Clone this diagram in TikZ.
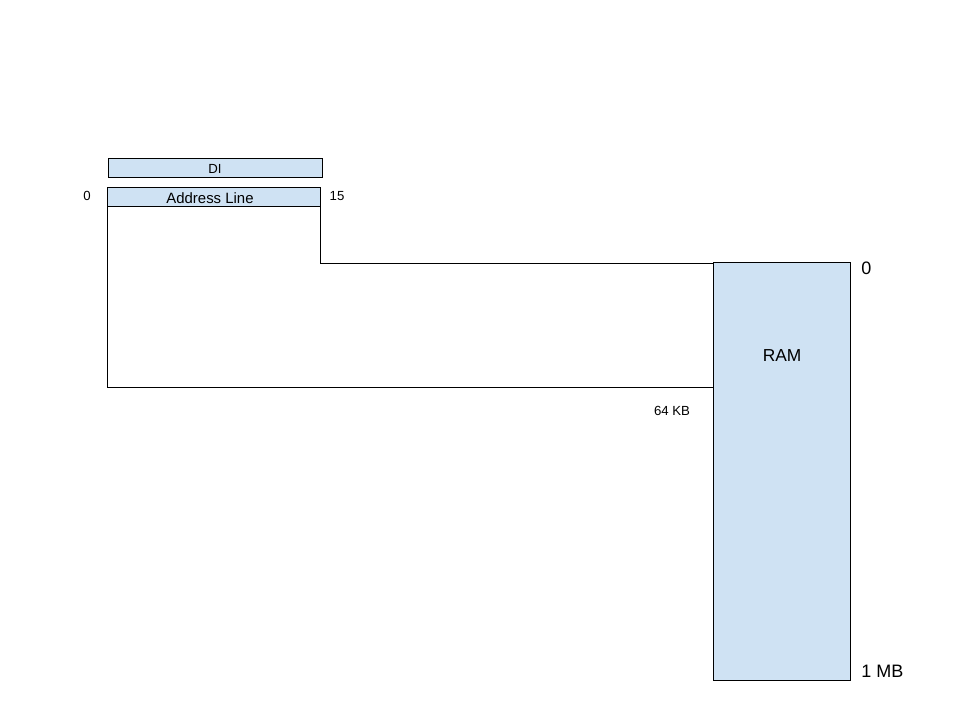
\documentclass[tikz,border=0pt]{standalone}
\usepackage{fontspec}
\setmainfont{Liberation Sans}
\definecolor{boxblue}{HTML}{CFE2F3}
\begin{document}
\begin{tikzpicture}[x=0.75pt,y=-0.75pt,
  bluebox/.style={draw=black,fill=boxblue,line width=0.75pt},
  wire/.style={draw=black,line width=0.75pt},
  lbl/.style={inner sep=0pt,font=\fontsize{9.9}{12}\selectfont},
  biglbl/.style={inner sep=0pt,font=\fontsize{13.5}{16}\selectfont}]
\useasboundingbox (0,0) rectangle (960,720);
\fill[white] (0,0) rectangle (960,720);
% DI box
\draw[bluebox] (108,159) rectangle (322,178);
\node[lbl] (di) at (215,169) {DI};
% Address line box
\draw[bluebox] (107,188) rectangle (320,207);
\node[inner sep=0pt,font=\fontsize{11.2}{13}\selectfont] (addr) at (210,198) {Address Line};
% RAM
\draw[bluebox] (713,263) rectangle (850,680);
\node[inner sep=0pt,font=\fontsize{13}{15}\selectfont] (ram) at (782,356) {RAM};
% coordinates
\coordinate (al) at (107,207);
\coordinate (ar) at (320,207);
\coordinate (rt) at (713,264);
\coordinate (rm) at (713,387);
\draw[wire] (al) |- (rm);
\draw[wire] (ar) |- (rt);
% labels
\node[lbl] (l0) at (87,196) {0};
\node[lbl] (l15) at (337,196) {15};
\node[lbl] (l64) at (672,411) {64 KB};
\node[biglbl,anchor=west] (r0) at (861,268) {0};
\node[biglbl,anchor=west] (r1) at (861,671) {1 MB};
\end{tikzpicture}
\end{document}
